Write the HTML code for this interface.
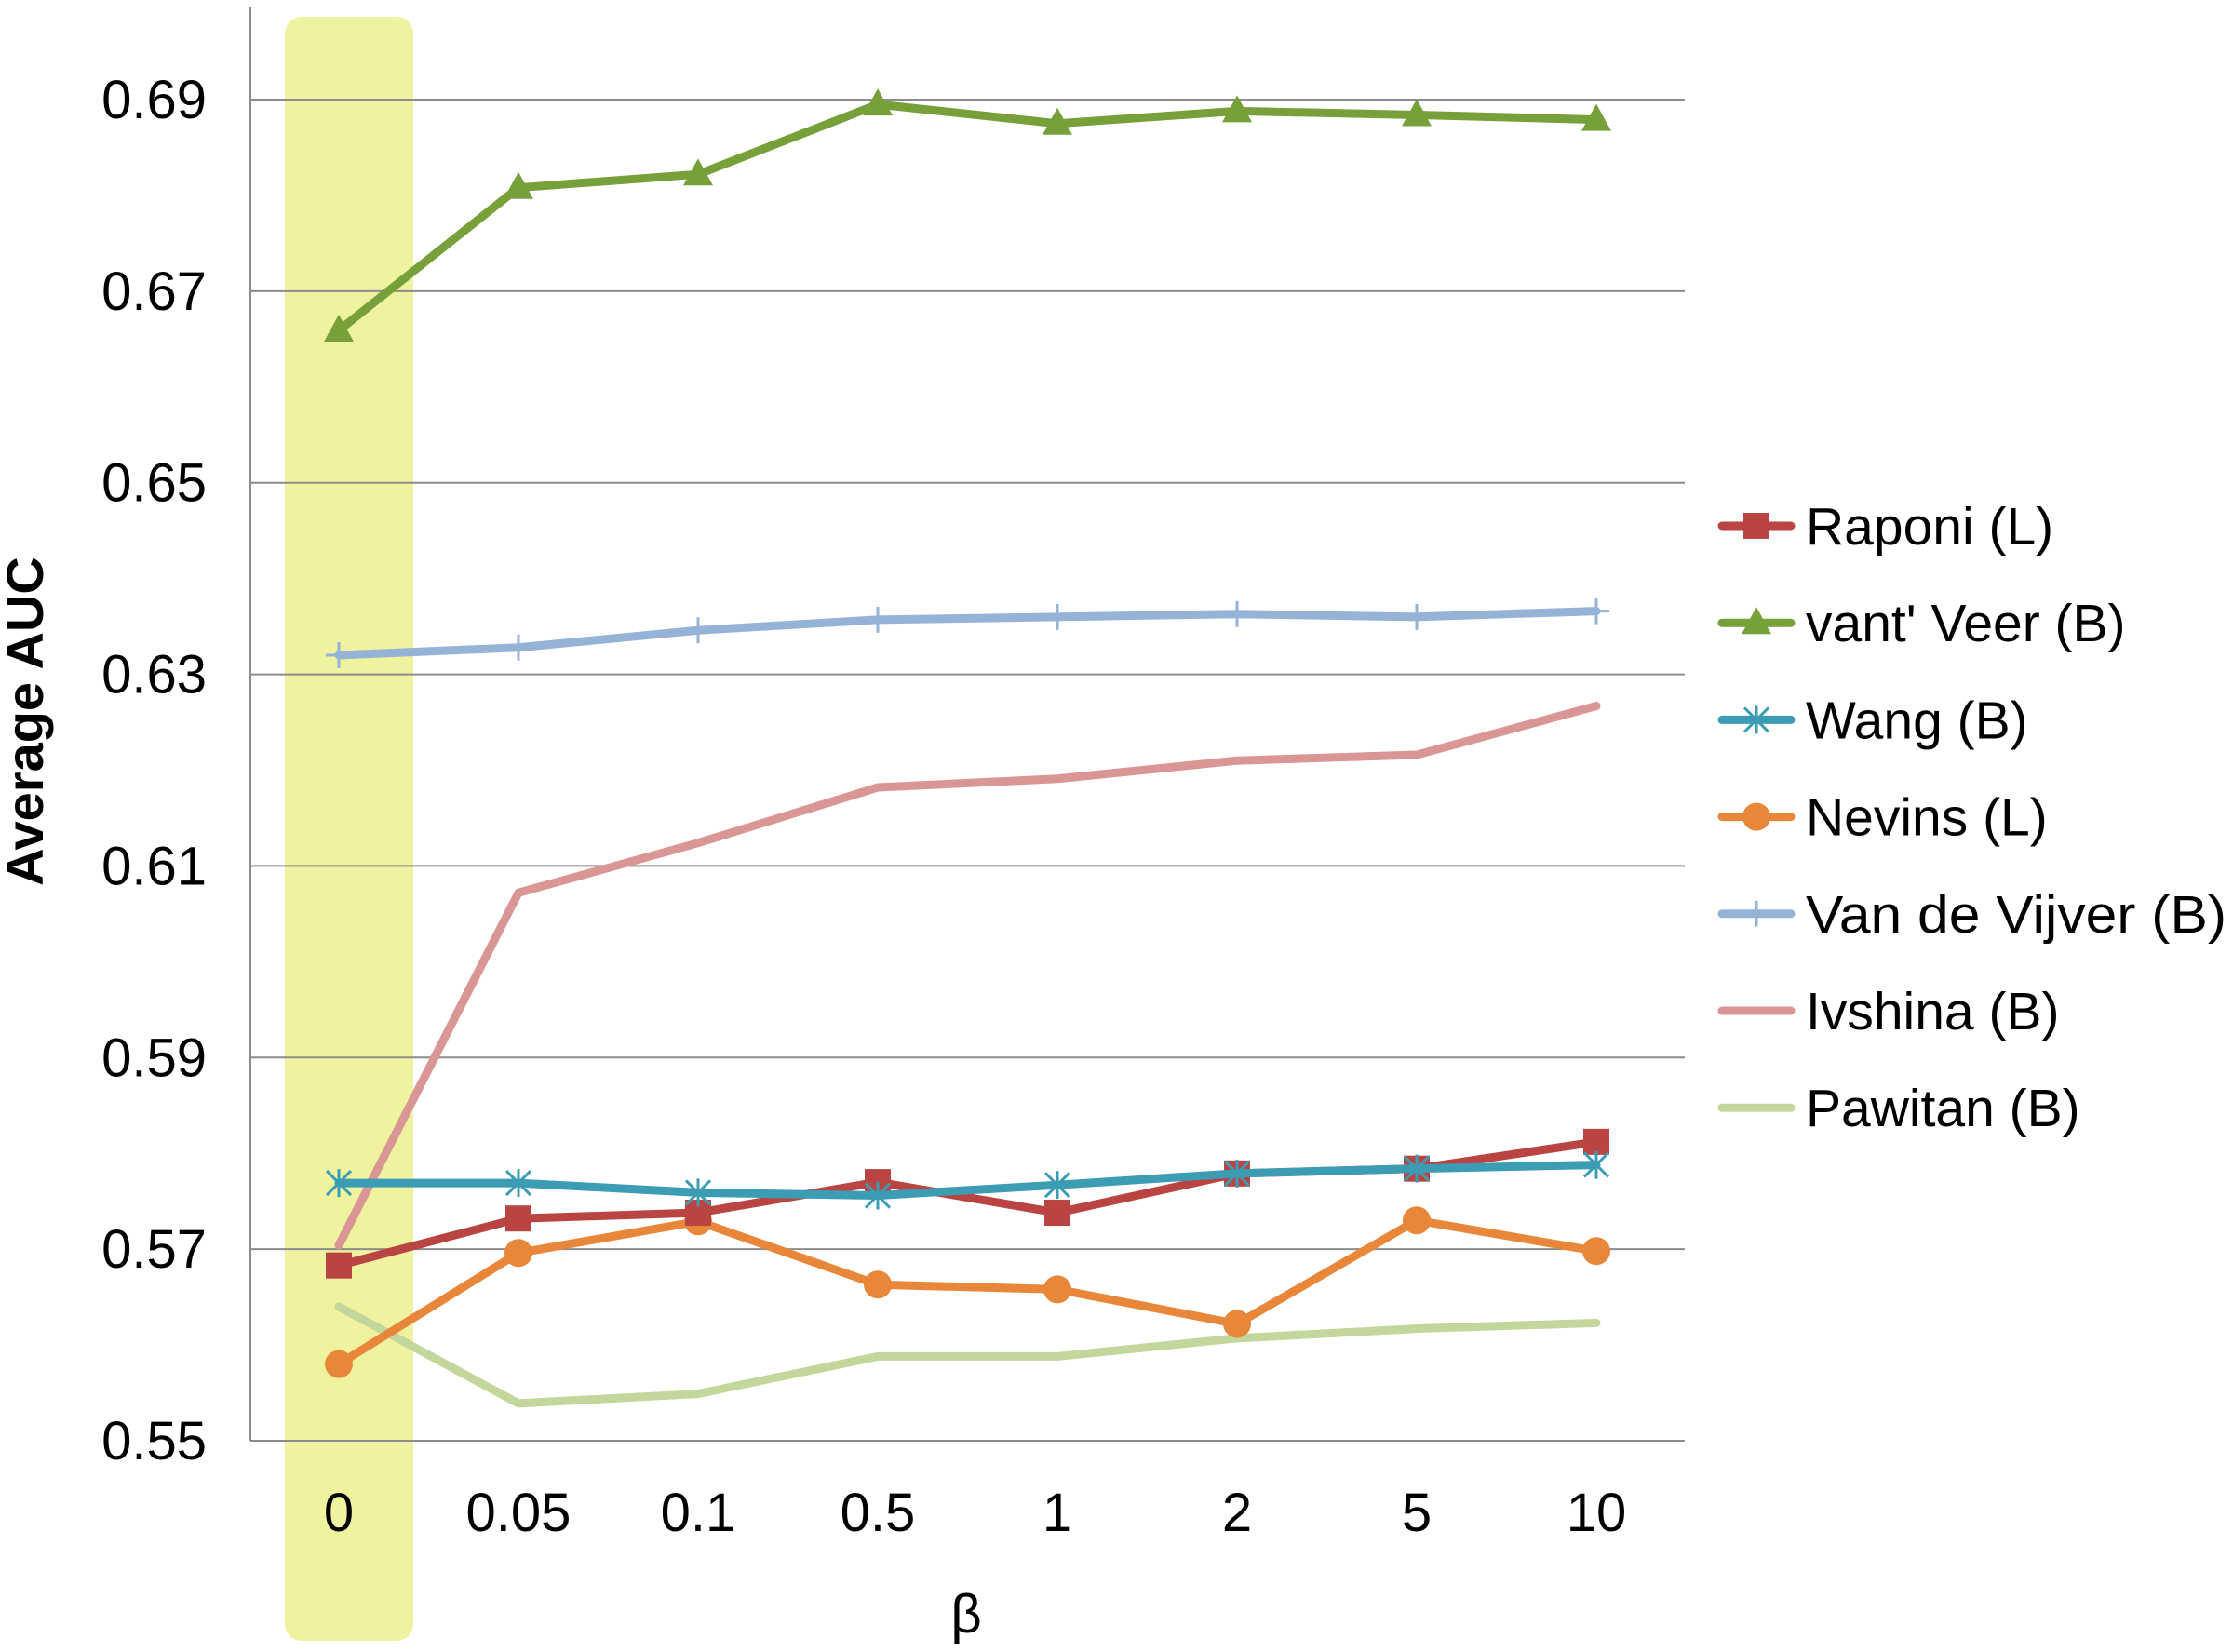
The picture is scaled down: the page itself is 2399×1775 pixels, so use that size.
<!DOCTYPE html>
<html><head><meta charset="utf-8">
<style>
html,body{margin:0;padding:0;background:#fff;}
svg{display:block;font-family:"Liberation Sans","DejaVu Sans",sans-serif;}
</style></head>
<body>
<svg id="chart" width="2399" height="1775" viewBox="0 0 2399 1775" xmlns="http://www.w3.org/2000/svg">
<rect x="306" y="18" width="138" height="1745" rx="18" fill="#eef29a" opacity="0.95"/>
<g id="grid"></g>
<g id="axes"></g>
<g id="series"></g>
<g id="legend"></g>
<text x="46" y="775" transform="rotate(-90 46 775)" text-anchor="middle" font-size="56" font-weight="bold" fill="#000">Average AUC</text>
<text x="1038" y="1754" text-anchor="middle" font-size="58" fill="#000">β</text>
</svg>
<script>
const categories = ["0","0.05","0.1","0.5","1","2","5","10"];
const yTicks = [0.55,0.57,0.59,0.61,0.63,0.65,0.67,0.69];
const yTickLabels = ["0.55","0.57","0.59","0.61","0.63","0.65","0.67","0.69"];
const seriesNames = ["Raponi (L)","vant' Veer (B)","Wang (B)","Nevins (L)","Van de Vijver (B)","Ivshina (B)","Pawitan (B)"];
const raponi = [0.5683,0.5732,0.5738,0.5770,0.5738,0.5779,0.5784,0.5812];
const vantVeer = [0.6659,0.6808,0.6822,0.6895,0.6875,0.6888,0.6884,0.6879];
const wang = [0.5769,0.5769,0.5759,0.5756,0.5767,0.5779,0.5784,0.5788];
const nevins = [0.5580,0.5696,0.5729,0.5663,0.5658,0.5622,0.5730,0.5698];
const vanDeVijver = [0.6320,0.6328,0.6346,0.6357,0.6360,0.6363,0.6360,0.6366];
const ivshina = [0.5704,0.6072,0.6124,0.6182,0.6191,0.6210,0.6216,0.6267];
const pawitan = [0.5640,0.5539,0.5549,0.5588,0.5588,0.5607,0.5617,0.5623];

const NS="http://www.w3.org/2000/svg";
const X0=364, XSTEP=193, YTOP=107, YBOT=1548, VMIN=0.55, VMAX=0.69;
const AXL=269, AXR=1810;
function xs(i){return X0+i*XSTEP;}
function ys(v){return YBOT-(v-VMIN)/(VMAX-VMIN)*(YBOT-YTOP);}
function mk(tag,attrs,parent){const e=document.createElementNS(NS,tag);for(const k in attrs)e.setAttribute(k,attrs[k]);parent.appendChild(e);return e;}

const grid=document.getElementById('grid'), axes=document.getElementById('axes');
yTicks.forEach((t,i)=>{
  const gl=mk('line',{x1:AXL,x2:AXR,y1:ys(t),y2:ys(t),stroke:'#8c8c8c','stroke-width':2},grid);
  
  
  const tl=mk('text',{x:222,y:ys(t)+20,'text-anchor':'end','font-size':58,fill:'#000'},axes);
  tl.textContent=yTickLabels[i];
  
  
});
const ya=mk('line',{x1:AXL,x2:AXL,y1:8,y2:YBOT,stroke:'#8c8c8c','stroke-width':2},axes);


categories.forEach((c,i)=>{
  const tl=mk('text',{x:xs(i),y:1645,'text-anchor':'middle','font-size':58,fill:'#000'},axes);
  tl.textContent=c;
  
  
});

const defs=[
 {d:pawitan,c:'#c3d69b',m:'none'},
 {d:ivshina,c:'#d99694',m:'none'},
 {d:vanDeVijver,c:'#95b3d7',m:'plus'},
 {d:nevins,c:'#e8873a',m:'circle'},
 {d:raponi,c:'#b94442',m:'square'},
 {d:wang,c:'#3b9cb3',m:'star'},
 {d:vantVeer,c:'#77a03a',m:'triangle'}
];
const names=[seriesNames[6],seriesNames[5],seriesNames[4],seriesNames[3],seriesNames[0],seriesNames[2],seriesNames[1]];
function marker(type,x,y,c,g){
  let e;
  if(type==='square') e=mk('rect',{x:x-14,y:y-14,width:28,height:28,fill:c},g);
  else if(type==='circle') e=mk('circle',{cx:x,cy:y,r:15,fill:c},g);
  else if(type==='triangle') e=mk('polygon',{points:`${x},${y-17} ${x+16},${y+12} ${x-16},${y+12}`,fill:c},g);
  else if(type==='star') e=mk('path',{d:`M${x-13} ${y-13}L${x+13} ${y+13}M${x+13} ${y-13}L${x-13} ${y+13}M${x} ${y-15}L${x} ${y+15}`,stroke:c,'stroke-width':3,fill:'none'},g);
  else if(type==='plus') e=mk('path',{d:`M${x-14} ${y}L${x+14} ${y}M${x} ${y-14}L${x} ${y+14}`,stroke:c,'stroke-width':3,fill:'none'},g);
  return e;
}
const sg=document.getElementById('series');
defs.forEach((s,k)=>{
  const g=mk('g',{},sg);
  
  
  const pts=s.d.map((v,i)=>xs(i)+','+ys(v)).join(' ');
  const pl=mk('polyline',{points:pts,fill:'none',stroke:s.c,'stroke-width':9,'stroke-linejoin':'round','stroke-linecap':'round'},g);
  
  
  s.d.forEach((v,i)=>{
    const m=marker(s.m,xs(i),ys(v),s.c,g);
    if(m){
    }
  });
});

const legendStyles=[
 {c:'#b94442',m:'square'},{c:'#77a03a',m:'triangle'},{c:'#3b9cb3',m:'star'},
 {c:'#e8873a',m:'circle'},{c:'#95b3d7',m:'plus'},{c:'#d99694',m:'none'},{c:'#c3d69b',m:'none'}
];
const lg=document.getElementById('legend');


seriesNames.forEach((n,i)=>{
  const y=565+i*104.2;
  const g=mk('g',{},lg);
  
  
  mk('line',{x1:1850,x2:1924,y1:y,y2:y,stroke:legendStyles[i].c,'stroke-width':9,'stroke-linecap':'round'},g);
  marker(legendStyles[i].m,1887,y,legendStyles[i].c,g);
  const t=mk('text',{x:1940,y:y+20,'font-size':57,fill:'#000'},g);
  t.textContent=n;
  if(n==="Van de Vijver (B)"){t.setAttribute('textLength','452');t.setAttribute('lengthAdjust','spacingAndGlyphs');}
});
</script>
</body></html>
